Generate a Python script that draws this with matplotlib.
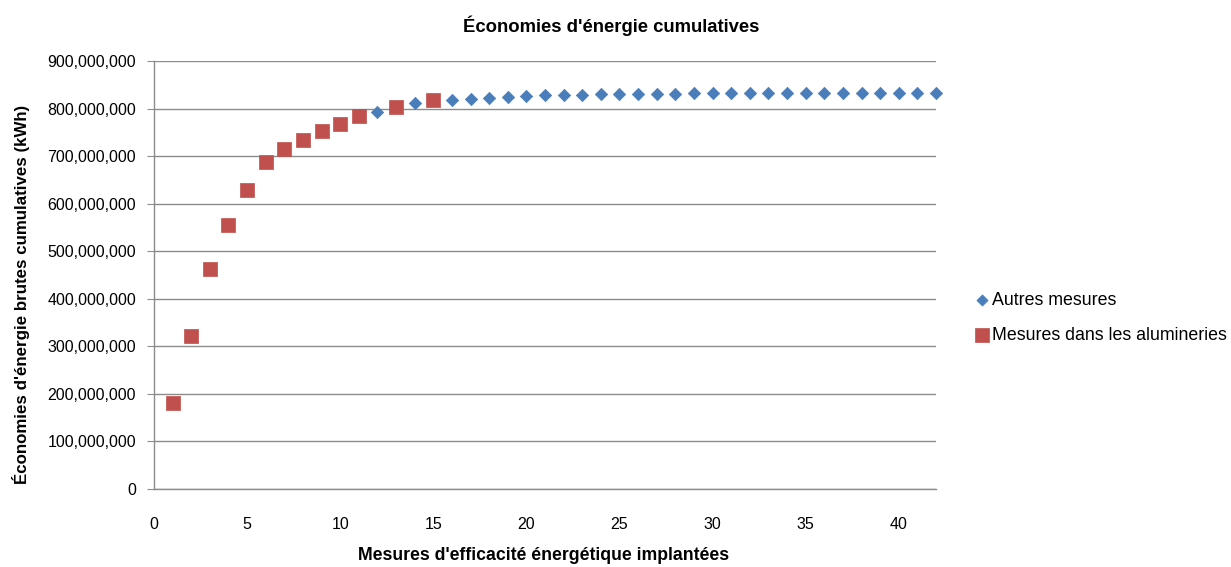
import matplotlib
matplotlib.use("Agg")
import matplotlib.pyplot as plt
from matplotlib.ticker import FuncFormatter

plt.rcParams['font.family'] = ['Liberation Sans', 'DejaVu Sans']

title = "Économies d'énergie cumulatives"
xlabel = "Mesures d'efficacité énergétique implantées"
ylabel = "Économies d'énergie brutes cumulatives (kWh)"
series_blue = "Autres mesures"
series_red = "Mesures dans les alumineries"

# Mesures dans les alumineries
red_x = [1, 2, 3, 4, 5, 6, 7, 8, 9, 10, 11, 13, 15]
red_y = [180e6, 322e6, 462e6, 555e6, 629e6, 688e6, 716e6, 734e6, 753e6,
         768e6, 784e6, 803e6, 817e6]

# Autres mesures
blue_x = [12, 14] + list(range(16, 43))
blue_y = [793e6, 811e6,
          818e6, 821e6, 823e6, 825e6, 827e6, 828e6, 829e6, 829.5e6, 830e6,
          830.5e6, 831e6, 831.3e6, 831.6e6, 831.9e6, 832.1e6, 832.3e6, 832.5e6,
          832.7e6, 832.8e6, 832.9e6, 833e6, 833.1e6, 833.2e6, 833.3e6, 833.4e6,
          833.5e6, 833.5e6]

xticks = [0, 5, 10, 15, 20, 25, 30, 35, 40]
yticks = [0, 100e6, 200e6, 300e6, 400e6, 500e6, 600e6, 700e6, 800e6, 900e6]

fig = plt.figure(figsize=(12.31, 5.67), dpi=100)
ax = fig.add_axes([154/1231, 1-489/567, (936-154)/1231, (489-61)/567])

ax.scatter(blue_x, blue_y, marker='D', s=40, color='#4a7ebb', edgecolors='#4a7ebb',
           linewidths=0.5, zorder=3, label=series_blue, clip_on=False)
ax.scatter(red_x, red_y, marker='s', s=112, color='#c0504d', edgecolors='#c0504d',
           linewidths=0.5, zorder=4, label=series_red, clip_on=False)

ax.set_xlim(0, 42)
ax.set_ylim(0, 900e6)
ax.set_xticks(xticks)
ax.set_yticks(yticks)
ax.yaxis.set_major_formatter(FuncFormatter(lambda v, p: f"{int(round(v)):,}"))
ax.grid(axis='y', color='#8c8c8c', linewidth=1.0)
ax.set_axisbelow(True)
for s in ['top', 'right']:
    ax.spines[s].set_visible(False)
for s in ['left', 'bottom']:
    ax.spines[s].set_color('#8c8c8c')
    ax.spines[s].set_linewidth(1.0)
ax.tick_params(axis='x', length=0, pad=20, labelsize=11.5)
ax.tick_params(axis='y', length=5, color='#8c8c8c', direction='out', pad=8, labelsize=11.5)

fig.text(544/1231, 1-556/567, xlabel, ha='center', va='center', fontsize=12.7, fontweight='bold')
fig.text(21/1231, 1-294/567, ylabel, ha='center', va='center', rotation=90,
         fontsize=12.2, fontweight='bold')
fig.text(611/1231, 1-26/567, title, ha='center', va='center', fontsize=13.3, fontweight='bold')

leg = fig.legend(loc='center left', bbox_to_anchor=(973/1231, 1-318/567), frameon=False,
                 fontsize=12.8, handletextpad=0.05, labelspacing=1.0, handlelength=1.0,
                 markerscale=0.9, borderaxespad=0, borderpad=0)

fig.savefig("out.png", dpi=100)
